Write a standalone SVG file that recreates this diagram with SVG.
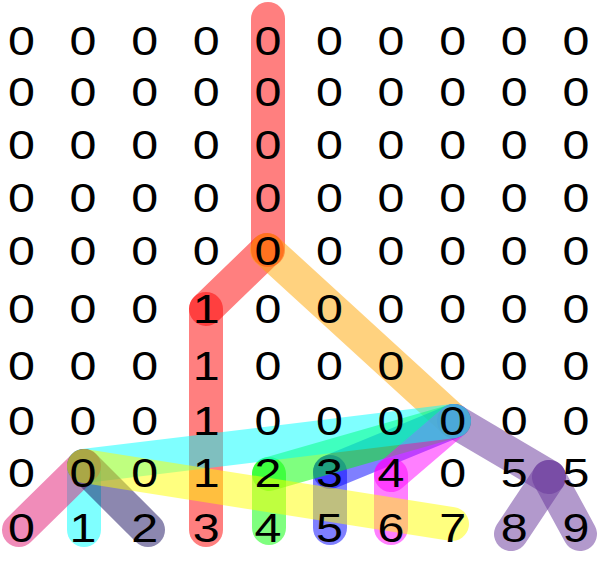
<svg xmlns="http://www.w3.org/2000/svg" width="600" height="564" viewBox="0 0 600 564">
<style>
.e{fill:none;stroke-width:34;stroke-linecap:round;stroke-opacity:0.5}
.t{font-family:"Liberation Sans",Arial,sans-serif;font-size:41px;fill:#000;text-anchor:middle}
</style>
<rect width="600" height="564" fill="#fff"/>
<g id="connectors">
<line class="e" stroke="#ff0000" x1="268" y1="19" x2="268" y2="250"/>
<line class="e" stroke="#ff0000" x1="267" y1="250" x2="206" y2="309"/>
<line class="e" stroke="#ff0000" x1="206" y1="309" x2="206" y2="530"/>
<line class="e" stroke="#ffa500" x1="267" y1="250" x2="454" y2="421"/>
<line class="e" stroke="#663399" x1="454" y1="421" x2="549" y2="477"/>
<line class="e" stroke="#663399" x1="549" y1="477" x2="511" y2="534"/>
<line class="e" stroke="#663399" x1="549" y1="477" x2="580" y2="534"/>
<line class="e" stroke="#0000ff" x1="454" y1="421" x2="330" y2="472"/>
<line class="e" stroke="#0000ff" x1="330" y1="472" x2="330" y2="528"/>
<line class="e" stroke="#00ff00" x1="454" y1="421" x2="269" y2="474"/>
<line class="e" stroke="#00ff00" x1="269" y1="474" x2="269" y2="528"/>
<line class="e" stroke="#ff00ff" x1="454" y1="421" x2="391" y2="475"/>
<line class="e" stroke="#ff00ff" x1="391" y1="475" x2="391" y2="528"/>
<line class="e" stroke="#00ffff" x1="454" y1="421" x2="84" y2="466"/>
<line class="e" stroke="#00ffff" x1="84" y1="466" x2="84" y2="530"/>
<line class="e" stroke="#e11973" x1="84" y1="466" x2="19" y2="530"/>
<line class="e" stroke="#1a0f60" x1="84" y1="466" x2="148" y2="530"/>
<line class="e" stroke="#ffff00" x1="84" y1="466" x2="452" y2="524"/>
</g>
<g id="grid" transform="scale(1.18 1)">
<g id="row0"><text class="t" x="18.2" y="55.5">0</text><text class="t" x="70.4" y="55.5">0</text><text class="t" x="122.6" y="55.5">0</text><text class="t" x="174.8" y="55.5">0</text><text class="t" x="227" y="55.5">0</text><text class="t" x="279.2" y="55.5">0</text><text class="t" x="331.4" y="55.5">0</text><text class="t" x="383.6" y="55.5">0</text><text class="t" x="435.8" y="55.5">0</text><text class="t" x="488" y="55.5">0</text></g>
<g id="row1"><text class="t" x="18.2" y="106">0</text><text class="t" x="70.4" y="106">0</text><text class="t" x="122.6" y="106">0</text><text class="t" x="174.8" y="106">0</text><text class="t" x="227" y="106">0</text><text class="t" x="279.2" y="106">0</text><text class="t" x="331.4" y="106">0</text><text class="t" x="383.6" y="106">0</text><text class="t" x="435.8" y="106">0</text><text class="t" x="488" y="106">0</text></g>
<g id="row2"><text class="t" x="18.2" y="159">0</text><text class="t" x="70.4" y="159">0</text><text class="t" x="122.6" y="159">0</text><text class="t" x="174.8" y="159">0</text><text class="t" x="227" y="159">0</text><text class="t" x="279.2" y="159">0</text><text class="t" x="331.4" y="159">0</text><text class="t" x="383.6" y="159">0</text><text class="t" x="435.8" y="159">0</text><text class="t" x="488" y="159">0</text></g>
<g id="row3"><text class="t" x="18.2" y="212">0</text><text class="t" x="70.4" y="212">0</text><text class="t" x="122.6" y="212">0</text><text class="t" x="174.8" y="212">0</text><text class="t" x="227" y="212">0</text><text class="t" x="279.2" y="212">0</text><text class="t" x="331.4" y="212">0</text><text class="t" x="383.6" y="212">0</text><text class="t" x="435.8" y="212">0</text><text class="t" x="488" y="212">0</text></g>
<g id="row4"><text class="t" x="18.2" y="265">0</text><text class="t" x="70.4" y="265">0</text><text class="t" x="122.6" y="265">0</text><text class="t" x="174.8" y="265">0</text><text class="t" x="227" y="265">0</text><text class="t" x="279.2" y="265">0</text><text class="t" x="331.4" y="265">0</text><text class="t" x="383.6" y="265">0</text><text class="t" x="435.8" y="265">0</text><text class="t" x="488" y="265">0</text></g>
<g id="row5"><text class="t" x="18.2" y="323">0</text><text class="t" x="70.4" y="323">0</text><text class="t" x="122.6" y="323">0</text><text class="t" x="174.8" y="323">1</text><text class="t" x="227" y="323">0</text><text class="t" x="279.2" y="323">0</text><text class="t" x="331.4" y="323">0</text><text class="t" x="383.6" y="323">0</text><text class="t" x="435.8" y="323">0</text><text class="t" x="488" y="323">0</text></g>
<g id="row6"><text class="t" x="18.2" y="380">0</text><text class="t" x="70.4" y="380">0</text><text class="t" x="122.6" y="380">0</text><text class="t" x="174.8" y="380">1</text><text class="t" x="227" y="380">0</text><text class="t" x="279.2" y="380">0</text><text class="t" x="331.4" y="380">0</text><text class="t" x="383.6" y="380">0</text><text class="t" x="435.8" y="380">0</text><text class="t" x="488" y="380">0</text></g>
<g id="row7"><text class="t" x="18.2" y="435">0</text><text class="t" x="70.4" y="435">0</text><text class="t" x="122.6" y="435">0</text><text class="t" x="174.8" y="435">1</text><text class="t" x="227" y="435">0</text><text class="t" x="279.2" y="435">0</text><text class="t" x="331.4" y="435">0</text><text class="t" x="383.6" y="435">0</text><text class="t" x="435.8" y="435">0</text><text class="t" x="488" y="435">0</text></g>
<g id="row8"><text class="t" x="18.2" y="487">0</text><text class="t" x="70.4" y="487">0</text><text class="t" x="122.6" y="487">0</text><text class="t" x="174.8" y="487">1</text><text class="t" x="227" y="487">2</text><text class="t" x="279.2" y="487">3</text><text class="t" x="331.4" y="487">4</text><text class="t" x="383.6" y="487">0</text><text class="t" x="435.8" y="487">5</text><text class="t" x="488" y="487">5</text></g>
<g id="row9"><text class="t" x="18.2" y="542">0</text><text class="t" x="70.4" y="542">1</text><text class="t" x="122.6" y="542">2</text><text class="t" x="174.8" y="542">3</text><text class="t" x="227" y="542">4</text><text class="t" x="279.2" y="542">5</text><text class="t" x="331.4" y="542">6</text><text class="t" x="383.6" y="542">7</text><text class="t" x="435.8" y="542">8</text><text class="t" x="488" y="542">9</text></g>
</g>
</svg>
